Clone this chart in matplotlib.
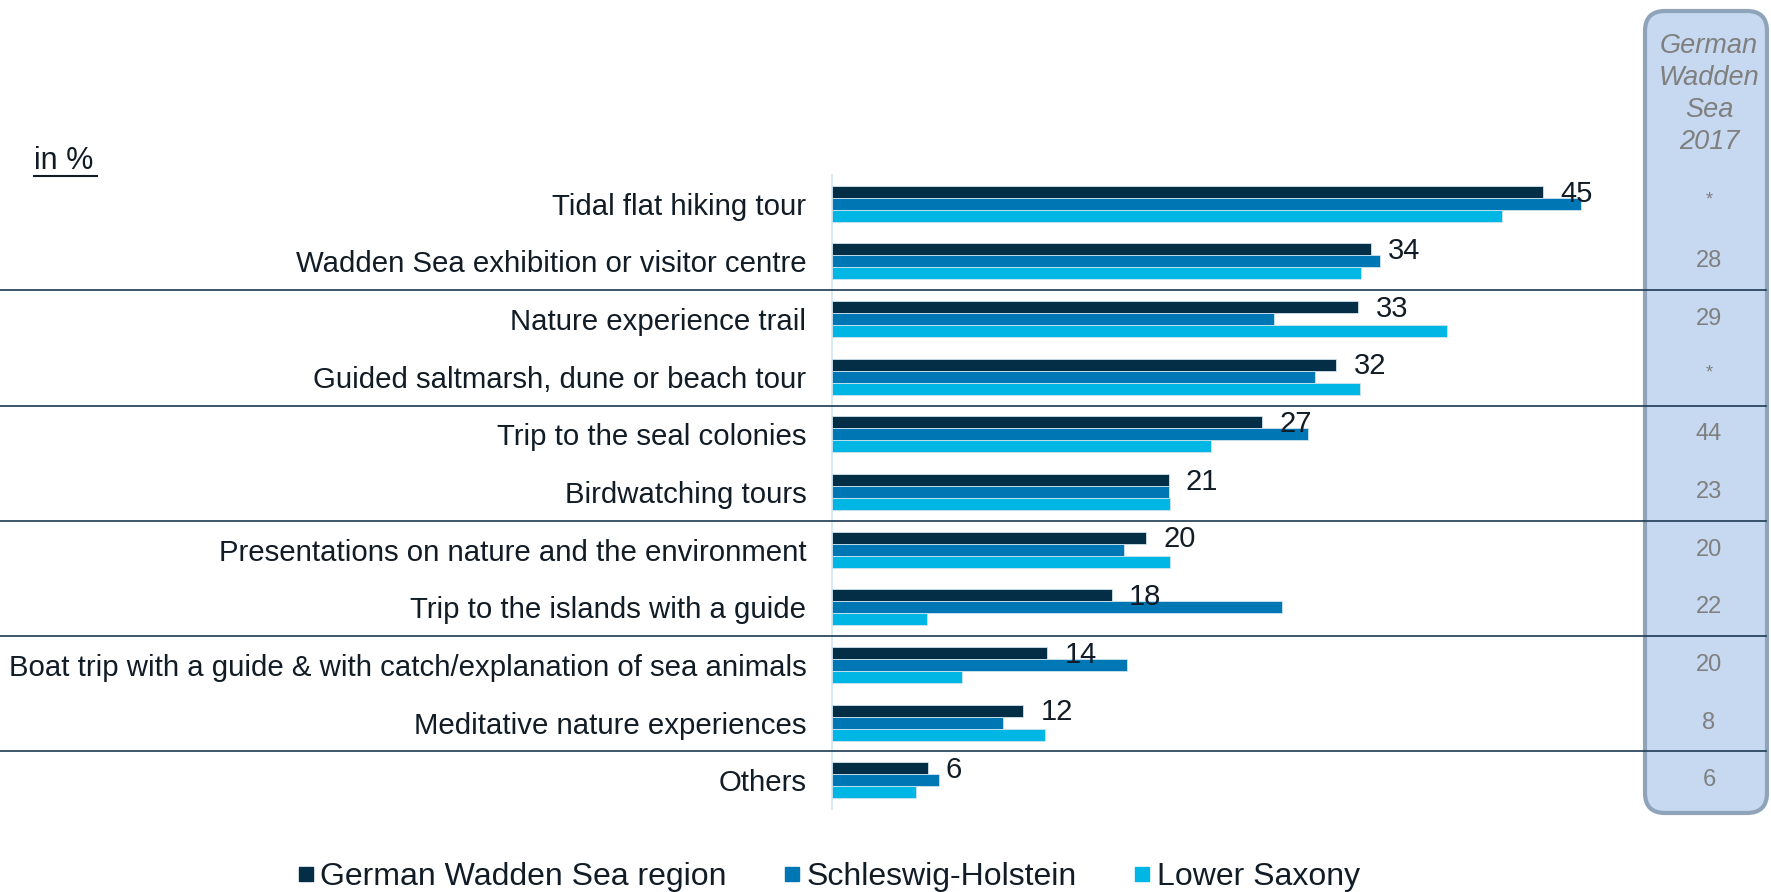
import matplotlib
matplotlib.use("Agg")
import matplotlib.pyplot as plt
import matplotlib.transforms as mtransforms
from matplotlib.patches import FancyBboxPatch
from matplotlib.lines import Line2D

# data
categories = [
    "Tidal flat hiking tour",
    "Wadden Sea exhibition or visitor centre",
    "Nature experience trail",
    "Guided saltmarsh, dune or beach tour",
    "Trip to the seal colonies",
    "Birdwatching tours",
    "Presentations on nature and the environment",
    "Trip to the islands with a guide",
    "Boat trip with a guide & with catch/explanation of sea animals",
    "Meditative nature experiences",
    "Others",
]
region = [45.0, 34.1, 33.3, 31.9, 27.2, 21.3, 19.9, 17.7, 13.6, 12.1, 6.1]
schleswig = [47.4, 34.7, 28.0, 30.6, 30.1, 21.3, 18.5, 28.5, 18.7, 10.8, 6.8]
lower_saxony = [42.4, 33.5, 38.9, 33.4, 24.0, 21.4, 21.4, 6.0, 8.2, 13.5, 5.3]
wadden_2017 = ["*", "28", "29", "*", "44", "23", "20", "22", "20", "8", "6"]
series_names = ["German Wadden Sea region", "Schleswig-Holstein", "Lower Saxony"]
separators_after = [1, 3, 5, 7, 9]

COLORS = ["#042e46", "#0077b5", "#00b6e4"]
TEXT = "#111c26"
NAVY = "#1d3a52"

plt.rcParams["font.family"] = ["Liberation Sans", "DejaVu Sans"]

W, H = 1771, 892
fig = plt.figure(figsize=(W / 100, H / 100), dpi=100)

# axes placed by pixel geometry
left_px, right_px, top_px, bot_px = 832, 1640, 175, 809
px_per_unit = 15.8
ax = fig.add_axes([left_px / W, 1 - bot_px / H, (right_px - left_px) / W, (bot_px - top_px) / H])

bh = 0.208
ypos = list(range(len(categories)))
for k, (vals, col) in enumerate(zip([region, schleswig, lower_saxony], COLORS)):
    ax.barh([y + (k - 1) * bh for y in ypos], vals, height=bh, color=col,
            edgecolor="#cfe3ef", linewidth=0.6, label=series_names[k], zorder=3)

for y, v in zip(ypos, region):
    ax.text(v + 1.1, y - bh + 0.03, f"{v:.0f}", va="center", ha="left", fontsize=21,
            color=TEXT, zorder=5)

ax.set_xlim(0, (right_px - left_px) / px_per_unit)
ax.set_ylim(len(categories) - 0.5, -0.5)
ax.set_yticks(ypos)
ax.set_yticklabels(categories, fontsize=21.2, color=TEXT)
ax.tick_params(axis="y", length=0, pad=18.5)
ax.set_xticks([])
for s in ["top", "right", "bottom"]:
    ax.spines[s].set_visible(False)
ax.spines["left"].set_color("#cfe6f3")
ax.spines["left"].set_linewidth(1.2)

# right-hand panel with 2017 values
panel = FancyBboxPatch((16.45, 0.79), 1.22, 8.02,
                       boxstyle="round,pad=0,rounding_size=0.2",
                       transform=fig.dpi_scale_trans, facecolor="#c6d9f0",
                       edgecolor="#8fa3b9", linewidth=3.0, zorder=0)
fig.add_artist(panel)
fig.text(1709 / W, 1 - 94 / H, "German\nWadden\nSea\n2017", ha="center", va="center",
         fontsize=19.5, style="italic", color="#7f7f7f", linespacing=1.3)

blend = mtransforms.blended_transform_factory(fig.transFigure, ax.transData)
for y, t in zip(ypos, wadden_2017):
    fig.text(1709 / W, y if t != "*" else y - 0.06, t, transform=blend, ha="center",
             va="center", fontsize=17 if t != "*" else 13, color="#7f7f7f")

for i in separators_after:
    fig.add_artist(Line2D([0, 1766 / W], [i + 0.5, i + 0.5], transform=blend,
                          color=NAVY, linewidth=1.2, zorder=4))

# "in %" with underline
fig.text(34 / W, 1 - 161 / H, "in %", ha="left", va="center", fontsize=22, color=TEXT)
fig.add_artist(Line2D([34 / W, 97 / W], [1 - 176 / H, 1 - 176 / H],
                      transform=fig.transFigure, color=TEXT, linewidth=1.5))

handles = [Line2D([], [], marker="s", linestyle="none", markersize=9.7,
                  markerfacecolor=c, markeredgecolor=c) for c in COLORS]
fig.legend(handles, series_names, loc="center", ncol=3, frameon=False,
           bbox_to_anchor=(0.468, 1 - 877 / H), fontsize=23, handletextpad=0.2,
           columnspacing=1.8, handlelength=0.5, labelcolor=TEXT)

fig.savefig("out.png", dpi=100)
